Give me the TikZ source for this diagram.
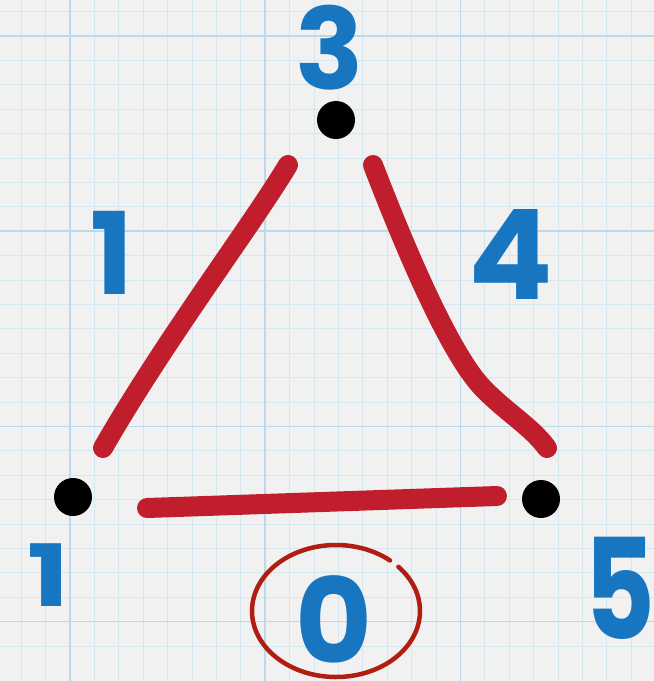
\documentclass[tikz,border=0pt]{standalone}
\usepackage{fontspec}
\setmainfont{Poppins}
\definecolor{paper}{HTML}{F1F1F1}
\definecolor{gridminor}{HTML}{D5E7F0}
\definecolor{gridmajor}{HTML}{BBD9EA}
\definecolor{edgered}{HTML}{C01E2D}
\definecolor{ringred}{HTML}{B01E12}
\definecolor{inkblue}{HTML}{1876C0}
\tikzset{
  vertex/.style={circle,fill=black,minimum size=38pt,inner sep=0pt},
  edgestroke/.style={edgered,line width=20pt,line cap=round,line join=round},
  digit/.style={inkblue,inner sep=0pt,anchor=center},
  ring/.style={ringred,line width=4.5pt,line cap=round}
}
\begin{document}
\begin{tikzpicture}[x=1pt,y=-1pt]
\fill[paper] (0,0) rectangle (654,681);
\useasboundingbox (0,0) rectangle (654,681);
% grid
\foreach \k in {0,...,26} {
  \draw[gridminor,line width=1pt] ({21.2+24.4*\k},0) -- ({21.2+24.4*\k},681);
  \draw[gridminor,line width=1pt] (0,{11.6+24.4*\k}) -- (654,{11.6+24.4*\k});
}
\foreach \v in {70,265.2,460.4} {
  \draw[gridmajor,line width=1.6pt] (\v,0) -- (\v,681);
}
\foreach \v in {36,231.2,426.4,621.6} {
  \draw[gridmajor,line width=1.6pt] (0,\v) -- (654,\v);
}
% vertices
\node[vertex] (v3) at (336,120) {};
\node[vertex] (v1) at (73,497) {};
\node[vertex] (v5) at (541,499) {};
% edge end points
\coordinate (a1) at (288,165);
\coordinate (a2) at (103,448);
\coordinate (b1) at (373,165);
\coordinate (b2) at (547,448);
\coordinate (c1) at (147,508);
\coordinate (c2) at (497,496);
\draw[edgestroke] (a1) .. controls (250,228) and (165,340) .. (a2);
\draw[edgestroke] (b1) .. controls (400,235) and (445,345) .. (480,385)
                       .. controls (505,412) and (530,425) .. (b2);
\draw[edgestroke] (c1) -- (c2);
% labels
\node[digit,font=\fontsize{113}{113}\selectfont\bfseries] (l3) at (330,48) {3};
\node[digit,font=\fontsize{114}{114}\selectfont\bfseries] (le1) at (112,253) {1};
\node[digit,font=\fontsize{125}{125}\selectfont\bfseries] (le4) at (511,254) {4};
\node[digit,font=\fontsize{86}{86}\selectfont\bfseries,xscale=1.3] (l1) at (49,575) {1};
\node[digit,font=\fontsize{140}{140}\selectfont\bfseries,xscale=0.78] (l5) at (620,588) {5};
\node[digit,font=\fontsize{118}{118}\selectfont\bfseries] (le0) at (334,620) {0};
% ring around 0
\coordinate (ell) at (336,611);
\draw[ring] ([shift={(50:84pt and 66pt)}]ell) arc[start angle=50,end angle=402,x radius=84pt,y radius=66pt];
\end{tikzpicture}
\end{document}
